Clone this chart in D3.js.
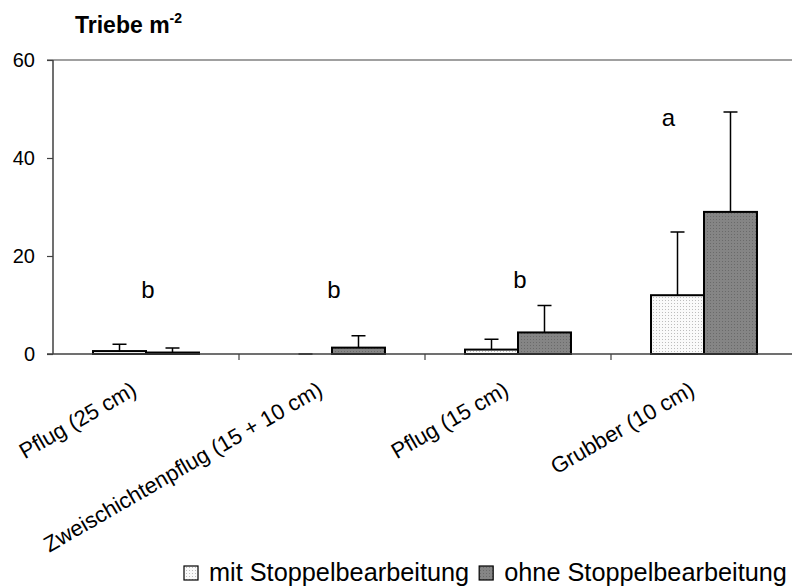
<!DOCTYPE html>
<meta charset="utf-8">
<style>
body { margin: 0; background: #fff; }
svg { font-family: "Liberation Sans", Arial, sans-serif; }
</style>
<body>
<script src="https://d3js.org/d3.v7.min.js"></script>
<script>

// categories and values
var categories = ["Pflug (25 cm)", "Zweischichtenpflug (15 + 10 cm)", "Pflug (15 cm)", "Grubber (10 cm)"];
var seriesNames = ["mit Stoppelbearbeitung", "ohne Stoppelbearbeitung"];
var mitValues = [0.6, 0, 0.9, 12.0];
var mitSd = [1.4, 0, 2.1, 12.9];
var ohneValues = [0.3, 1.3, 4.4, 29.0];
var ohneSd = [0.9, 2.4, 5.5, 20.4];
var letters = ["b", "b", "b", "a"];
var letterY = [11.5, 11.5, 13.5, 46.6];
var yTicks = [0, 20, 40, 60];

var width = 792, height = 587;
var margin = {top: 60, left: 53, bottom: 233};
var plotRight = 797;

var svg = d3.select("body").append("svg")
    .attr("width", width)
    .attr("height", height);

// patterns for the dotted fills
var defs = svg.append("defs");
var p1 = defs.append("pattern").attr("id", "dotLight")
    .attr("width", 3).attr("height", 3).attr("patternUnits", "userSpaceOnUse");
p1.append("rect").attr("width", 3).attr("height", 3).attr("fill", "#fafafa");
p1.append("rect").attr("width", 1).attr("height", 1).attr("fill", "#bdbdbd");
var p2 = defs.append("pattern").attr("id", "dotDark")
    .attr("width", 3).attr("height", 3).attr("patternUnits", "userSpaceOnUse");
p2.append("rect").attr("width", 3).attr("height", 3).attr("fill", "#858585");
p2.append("rect").attr("width", 1).attr("height", 1).attr("fill", "#6a6a6a");
var fills = ["url(#dotLight)", "url(#dotDark)"];

// scales
var x0 = d3.scaleBand()
    .domain(categories)
    .range([margin.left, plotRight]);
var x1 = d3.scaleBand()
    .domain([0, 1])
    .range([0, x0.bandwidth()])
    .paddingOuter(0.755);
var y = d3.scaleLinear()
    .domain([0, 60])
    .range([height - margin.bottom, margin.top]);

// top border of the plot area
svg.append("line")
    .attr("x1", margin.left - 6).attr("x2", plotRight)
    .attr("y1", y(60)).attr("y2", y(60))
    .attr("stroke", "#808080").attr("stroke-width", 1.5);

// y axis
var yAxis = svg.append("g")
    .attr("transform", "translate(" + margin.left + ",0)")
    .call(d3.axisLeft(y).tickValues(yTicks).tickSize(6).tickPadding(12));
yAxis.selectAll("text").attr("font-size", 20).attr("fill", "#000")
    .attr("font-family", "Liberation Sans, Arial, sans-serif");
yAxis.selectAll("line").attr("stroke", "#404040").attr("stroke-width", 1.2);
yAxis.select(".domain").attr("stroke", "#404040").attr("stroke-width", 1.5)
    .attr("d", "M0," + y(0) + "V" + y(60));

// data table
var data = categories.map(function(c, i) {
  return {cat: c, vals: [
    {k: 0, v: mitValues[i], sd: mitSd[i]},
    {k: 1, v: ohneValues[i], sd: ohneSd[i]}
  ]};
});

var groups = svg.selectAll(".grp")
    .data(data)
    .enter().append("g")
    .attr("class", "grp")
    .attr("transform", function(d) { return "translate(" + x0(d.cat) + ",0)"; });

// error bars (upper only)
groups.selectAll(".err")
    .data(function(d) { return d.vals; })
    .enter().append("path")
    .attr("class", "err")
    .attr("fill", "none").attr("stroke", "#000").attr("stroke-width", 1.5)
    .attr("d", function(d) {
      var cx = x1(d.k) + x1.bandwidth() / 2;
      var top = y(d.v + d.sd);
      return "M" + cx + "," + y(d.v) + "V" + top + "M" + (cx - 7) + "," + top + "H" + (cx + 7);
    });

// bars
groups.selectAll(".bar")
    .data(function(d) { return d.vals; })
    .enter().append("rect")
    .attr("class", "bar")
    .attr("x", function(d) { return x1(d.k); })
    .attr("width", x1.bandwidth())
    .attr("y", function(d) { return y(d.v); })
    .attr("height", function(d) { return y(0) - y(d.v); })
    .attr("fill", function(d) { return fills[d.k]; })
    .attr("stroke", "#000").attr("stroke-width", 2);

// x axis line and category ticks
svg.append("line")
    .attr("x1", margin.left - 6).attr("x2", plotRight)
    .attr("y1", y(0)).attr("y2", y(0))
    .attr("stroke", "#404040").attr("stroke-width", 1.5);
svg.selectAll(".xtick")
    .data(categories.slice(1))
    .enter().append("line")
    .attr("x1", function(d) { return x0(d); })
    .attr("x2", function(d) { return x0(d); })
    .attr("y1", y(0)).attr("y2", y(0) + 6)
    .attr("stroke", "#404040").attr("stroke-width", 1.2);

// significance letters
svg.selectAll(".letter")
    .data(letters)
    .enter().append("text")
    .attr("class", "letter")
    .attr("x", function(d, i) {
      return i === 3 ? x0(categories[i]) + x1(0) + x1.bandwidth() / 2 - 9
                     : x0(categories[i]) + x0.bandwidth() / 2 + 2;
    })
    .attr("y", function(d, i) { return y(letterY[i]); })
    .attr("text-anchor", "middle")
    .attr("font-size", 24)
    .text(function(d) { return d; });

// rotated category labels
svg.selectAll(".xlab")
    .data(categories)
    .enter().append("text")
    .attr("class", "xlab")
    .attr("transform", function(d) {
      return "translate(" + (x0(d) + x0.bandwidth() / 2 - 8) + "," + (y(0) + 40) + ") rotate(-30)";
    })
    .attr("text-anchor", "end")
    .attr("font-size", 22)
    .text(function(d) { return d; });

// title
var title = svg.append("text")
    .attr("x", 75).attr("y", 33)
    .attr("font-size", 23).attr("font-weight", "bold");
title.append("tspan").text("Triebe m");
title.append("tspan").attr("font-size", 14).attr("dy", -10).text("-2");

// legend
var lx = 184, ly = 566;
seriesNames.forEach(function(name, i) {
  svg.append("rect")
      .attr("x", lx).attr("y", ly)
      .attr("width", 14).attr("height", 14)
      .attr("fill", fills[i]).attr("stroke", "#000").attr("stroke-width", 1.2);
  var t = svg.append("text")
      .attr("x", lx + 25).attr("y", ly + 15)
      .attr("font-size", 25.3)
      .text(name);
  lx += 25 + t.node().getComputedTextLength() + 10;
});

</script>
</body>
